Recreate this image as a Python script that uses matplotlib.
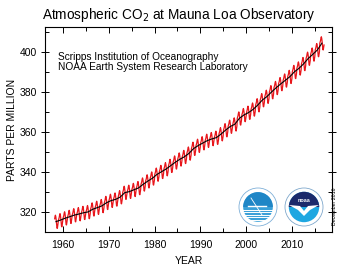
"""Keeling curve: atmospheric CO2 at Mauna Loa, monthly values + seasonally adjusted trend."""

import matplotlib

matplotlib.use("Agg")
import matplotlib.pyplot as plt
from matplotlib.patches import Circle, Wedge, Polygon
from matplotlib.ticker import MultipleLocator

plt.rcParams["font.family"] = ["Liberation Sans", "DejaVu Sans"]

YEARS = list(range(1958, 2017))
ANNUAL = [315.2, 315.97, 316.91, 317.64, 318.45, 318.99, 319.62, 320.04, 321.37,
          322.18, 323.05, 324.62, 325.68, 326.32, 327.46, 329.68, 330.19, 331.12,
          332.03, 333.84, 335.41, 336.84, 338.76, 340.12, 341.48, 343.15, 344.85,
          346.35, 347.61, 349.31, 351.69, 353.20, 354.45, 355.70, 356.54, 357.21,
          358.96, 360.97, 362.74, 363.88, 366.84, 368.54, 369.71, 371.32, 373.45,
          375.98, 377.70, 379.98, 382.09, 384.02, 385.83, 387.64, 390.10, 391.85,
          394.06, 396.74, 398.81, 401.01, 404.41]
# mean seasonal departure by month, Jan..Dec (ppm)
SEASONAL = [0.0, 0.7, 1.4, 2.6, 3.2, 2.4, 0.8, -1.4, -3.2, -3.4, -2.0, -0.9]
FIRST_MONTH = 2  # record starts March 1958

XTICKS = [1960, 1970, 1980, 1990, 2000, 2010]
YTICKS = [320, 340, 360, 380, 400]

# monthly series = annual mean + seasonal departure
t_month, co2_month = [], []
for y, a in zip(YEARS, ANNUAL):
    for m, s in enumerate(SEASONAL):
        if y == YEARS[0] and m < FIRST_MONTH:
            continue
        t_month.append(y + (m + 0.5) / 12)
        co2_month.append(a + s)
t_trend = [y + 0.5 for y in YEARS]

fig = plt.figure(figsize=(3.39, 2.70), dpi=100)
ax = fig.add_axes([45 / 339, 1 - 232 / 270, 287 / 339, 205 / 270])

ax.plot(t_month, co2_month, color="#e8161b", lw=0.9, zorder=2)
ax.plot(t_trend, ANNUAL, color="black", lw=0.8, zorder=3)

ax.set_xlim(1956.1, 2018.7)
ax.set_ylim(310, 412.5)
ax.set_xticks(XTICKS)
ax.set_yticks(YTICKS)
ax.xaxis.set_minor_locator(MultipleLocator(5))
ax.yaxis.set_minor_locator(MultipleLocator(10))
ax.tick_params(which="both", direction="in", top=True, right=True,
               labelsize=7.5, width=0.7)
ax.tick_params(which="major", length=4)
ax.tick_params(which="minor", length=3)
ax.tick_params(axis="x", which="major", pad=6)
ax.tick_params(axis="y", which="major", direction="inout", length=6, pad=3)
for sp in ax.spines.values():
    sp.set_linewidth(0.8)

ax.set_xlabel("YEAR", fontsize=7.5, labelpad=4)
ax.set_ylabel("PARTS PER MILLION", fontsize=7.5, labelpad=2)
fig.text(0.5 + 19 / 339 / 2, 1 - 15 / 270, "Atmospheric CO$_2$ at Mauna Loa Observatory",
         ha="center", va="center", fontsize=9.8)

ax.text(0.045, 0.88, "Scripps Institution of Oceanography\nNOAA Earth System Research Laboratory",
        transform=ax.transAxes, ha="left", va="top", fontsize=7.3, linespacing=1.05)

fig.text(1 - 4 / 339, 1 - 206 / 270, "December 2016", rotation=90,
         ha="center", va="center", fontsize=3.8)

# logos drawn in pixel coordinates
ov = fig.add_axes([0, 0, 1, 1])
ov.set_xlim(0, 339)
ov.set_ylim(270, 0)
ov.axis("off")

# Scripps-style logo
cx, cy, r = 258, 207, 19
ov.add_patch(Circle((cx, cy), r, fc="white", ec="#7fb0d8", lw=0.6))
ov.add_patch(Circle((cx, cy), r * 0.78, fc="#3aa0d8", ec="none"))
ov.add_patch(Wedge((cx, cy), r * 0.78, 180, 360, fc="#1f86c6", ec="none"))
for k in range(1, 6):
    yy = cy + k * 2.6
    half = (max((r * 0.78) ** 2 - (yy - cy) ** 2, 0)) ** 0.5
    ov.plot([cx - half, cx + half], [yy, yy], color="white", lw=0.7)
ov.plot([cx - 10, cx + 8], [cy - 1, cy - 1], color="white", lw=1.0)
ov.plot([cx - 7, cx + 4], [cy - 9, cy + 8], color="white", lw=0.6)

# NOAA-style logo
cx, cy, r = 304, 207, 19
ov.add_patch(Circle((cx, cy), r, fc="white", ec="#7fa8cc", lw=0.6))
ov.add_patch(Circle((cx, cy), r * 0.8, fc="#1ea7e1", ec="none"))
ov.add_patch(Wedge((cx, cy), r * 0.8, 180, 360, fc="#1c2a6b", ec="none"))
ov.add_patch(Polygon([[cx - 15, cy - 2], [cx - 4, cy - 1], [cx, cy + 4], [cx + 4, cy - 1],
                      [cx + 15, cy - 2], [cx + 6, cy + 3], [cx, cy + 9], [cx - 6, cy + 3]],
                     closed=True, fc="white", ec="none"))
ov.text(cx, cy - 7, "noaa", color="white", fontsize=4, ha="center", va="center",
        fontweight="bold")

fig.savefig("out.png", dpi=100)
